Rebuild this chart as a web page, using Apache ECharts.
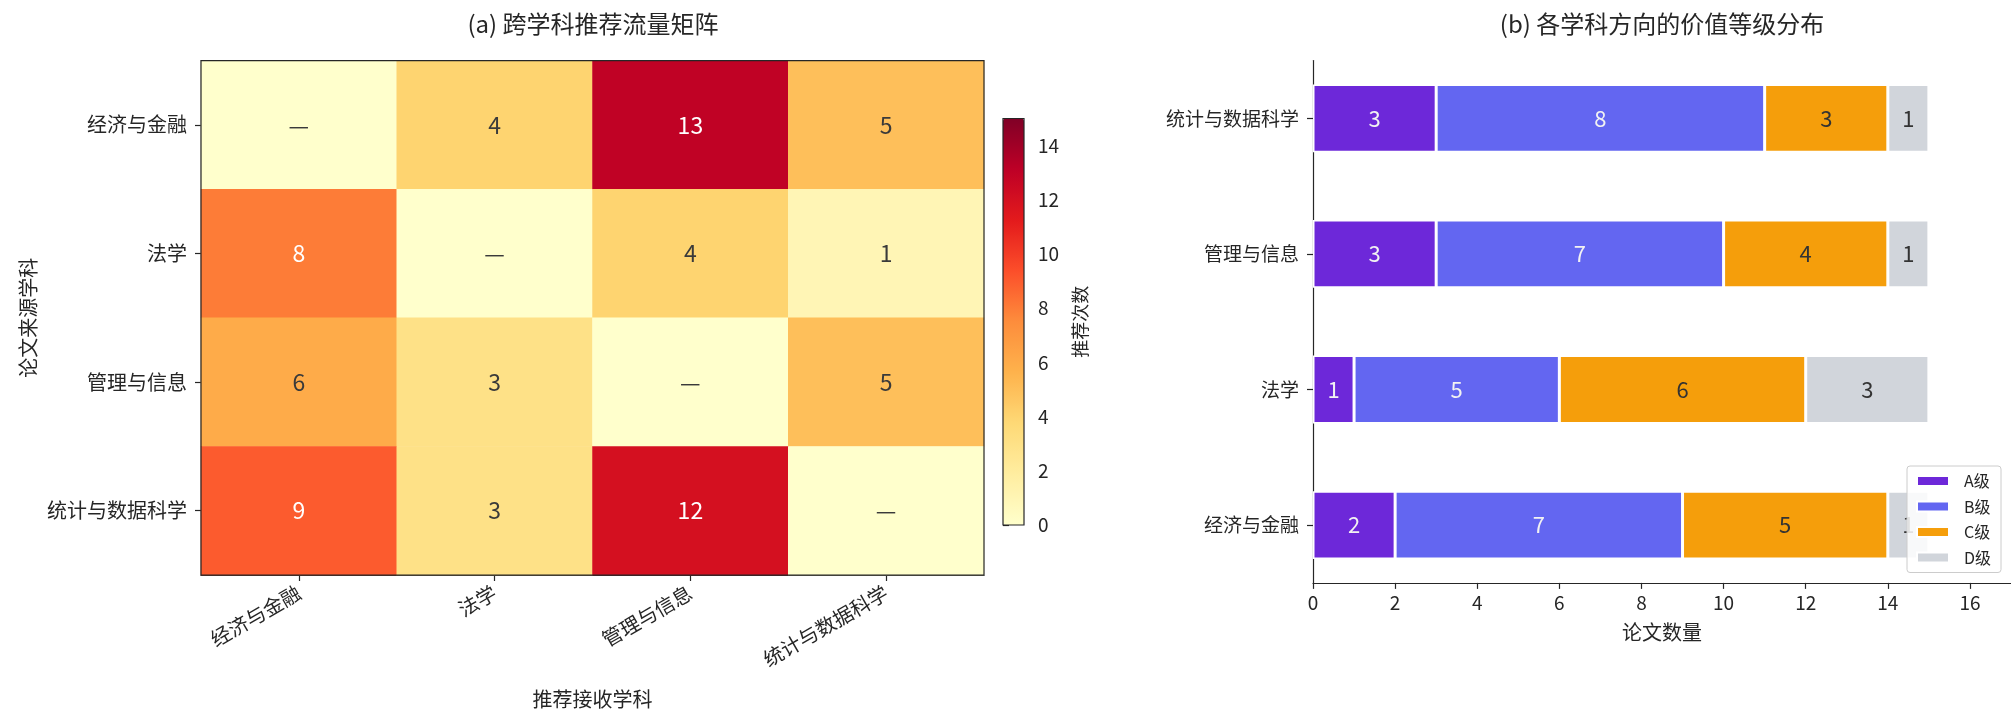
<!DOCTYPE html>
<html>
<head>
<meta charset="utf-8">
<script src="https://cdn.jsdelivr.net/npm/echarts@6/dist/echarts.min.js"></script>
<style>
  html, body { margin: 0; padding: 0; background: #ffffff; }
  #chart { width: 2011px; height: 714px; }
</style>
</head>
<body>
<div id="chart"></div>
<script>
// ---- data ----
const disciplines = ['经济与金融', '法学', '管理与信息', '统计与数据科学'];

// recommendation counts: rows = source discipline, columns = receiving discipline
// (diagonal is self-recommendation, shown as a dash)
const flowMatrix = [
  [0, 4, 13, 5],
  [8, 0, 4, 1],
  [6, 3, 0, 5],
  [9, 3, 12, 0]
];
const colorbarTicks = [0, 2, 4, 6, 8, 10, 12, 14];

// paper counts per value grade, in the order of `disciplines`
const gradeNames = ['A级', 'B级', 'C级', 'D级'];
const gradeA = [2, 1, 3, 3];
const gradeB = [7, 5, 7, 8];
const gradeC = [5, 6, 4, 3];
const gradeD = [1, 3, 1, 1];
const countTicks = [0, 2, 4, 6, 8, 10, 12, 14, 16];

// ---- styles ----
const FONT = '"Noto Sans CJK SC", "Noto Sans", sans-serif';
const INK = '#262626';
const YlOrRd = ['#ffffcc', '#ffeda0', '#fed976', '#feb24c', '#fd8d3c',
                '#fc4e2a', '#e31a1c', '#bd0026', '#800026'];
const gradeColors = ['#6d28d9', '#6366f1', '#f59e0b', '#d1d5db'];
const gradeLabelColors = ['#f2f2f2', '#f2f2f2', '#333333', '#333333'];

const heatData = [];
flowMatrix.forEach((row, i) => {
  row.forEach((v, j) => {
    heatData.push({
      value: [j, i, v],
      label: { color: (i !== j && v > 7) ? '#ffffff' : '#3a3a3a' }
    });
  });
});

const axisLineStyle = { color: INK, width: 1.2 };
const tickStyle = { color: INK, width: 1.2 };
const heatLabelStyle = { color: INK, fontFamily: FONT, fontSize: 20 };
const barLabelStyle = { color: INK, fontFamily: FONT, fontSize: 19 };

const chart = echarts.init(document.getElementById('chart'), null, { renderer: 'canvas' });

const gradeSeries = [gradeA, gradeB, gradeC, gradeD].map((vals, k) => ({
  name: gradeNames[k],
  type: 'bar',
  xAxisIndex: 2,
  yAxisIndex: 2,
  stack: 'grade',
  barWidth: '50%',
  data: vals,
  itemStyle: { color: gradeColors[k], borderColor: '#ffffff', borderWidth: 1.5 },
  label: {
    show: true,
    position: 'inside',
    formatter: '{c}',
    color: gradeLabelColors[k],
    fontFamily: FONT,
    fontSize: 22
  },
  emphasis: { disabled: true },
  z: 2
}));

chart.setOption({
  backgroundColor: '#ffffff',
  animation: false,
  textStyle: { fontFamily: FONT },
  title: [
    {
      text: '(a) 跨学科推荐流量矩阵',
      left: 593, top: 12, textAlign: 'center', padding: 0,
      textStyle: { fontFamily: FONT, fontSize: 24, fontWeight: 'normal', color: INK }
    },
    {
      text: '(b) 各学科方向的价值等级分布',
      left: 1662, top: 12, textAlign: 'center', padding: 0,
      textStyle: { fontFamily: FONT, fontSize: 24, fontWeight: 'normal', color: INK }
    }
  ],
  grid: [
    // heat matrix
    { left: 201, top: 60.6, width: 783, height: 522.3, show: true, z: 10,
      borderColor: INK, borderWidth: 1.2, backgroundColor: 'transparent', containLabel: false },
    // colour bar
    { left: 1003, top: 118.5, width: 21, height: 406.5, show: true, z: 10,
      borderColor: INK, borderWidth: 1.2, backgroundColor: 'transparent', containLabel: false },
    // stacked bars (category bands)
    { left: 1313, top: 50.5, width: 698, height: 542.4, containLabel: false },
    // bar panel frame (spines and value axis)
    { left: 1313, top: 60.6, width: 698, height: 522.3, containLabel: false }
  ],
  visualMap: {
    type: 'continuous',
    seriesIndex: 0,
    min: 0, max: 15,
    inRange: { color: YlOrRd },
    show: true,
    calculable: false,
    hoverLink: false,
    left: 1003, top: 118.5,
    itemWidth: 21, itemHeight: 406.5,
    padding: 0,
    borderWidth: 0
  },
  xAxis: [
    {
      gridIndex: 0, type: 'category', data: disciplines,
      axisLine: { show: true, lineStyle: axisLineStyle },
      axisTick: { show: true, alignWithLabel: true, length: 6, lineStyle: tickStyle },
      axisLabel: Object.assign({ rotate: 30, margin: 16, interval: 0 }, heatLabelStyle),
      splitLine: { show: false },
      name: '推荐接收学科', nameLocation: 'middle', nameGap: 114,
      nameTextStyle: { color: INK, fontFamily: FONT, fontSize: 20 }
    },
    { gridIndex: 1, type: 'value', show: false },
    { gridIndex: 2, type: 'value', min: 0, max: 17, show: false },
    {
      gridIndex: 3, type: 'value', min: 0, max: 17,
      axisLine: { show: true, lineStyle: axisLineStyle },
      axisTick: { show: true, length: 6, lineStyle: tickStyle, customValues: countTicks },
      axisLabel: Object.assign({ margin: 10, customValues: countTicks }, barLabelStyle),
      splitLine: { show: false },
      name: '论文数量', nameLocation: 'middle', nameGap: 40,
      nameTextStyle: { color: INK, fontFamily: FONT, fontSize: 20 }
    }
  ],
  yAxis: [
    {
      gridIndex: 0, type: 'category', data: disciplines, inverse: true,
      axisLine: { show: true, lineStyle: axisLineStyle },
      axisTick: { show: true, alignWithLabel: true, length: 6, lineStyle: tickStyle },
      axisLabel: Object.assign({ margin: 14, interval: 0 }, heatLabelStyle),
      splitLine: { show: false },
      name: '论文来源学科', nameLocation: 'middle', nameRotate: 90, nameGap: 163,
      nameTextStyle: { color: INK, fontFamily: FONT, fontSize: 20 }
    },
    {
      gridIndex: 1, type: 'value', position: 'right', min: 0, max: 15,
      axisLine: { show: false },
      axisTick: { show: true, length: 6, lineStyle: tickStyle, customValues: colorbarTicks },
      axisLabel: { margin: 14, color: INK, fontFamily: FONT, fontSize: 19, customValues: colorbarTicks },
      splitLine: { show: false },
      name: '推荐次数', nameLocation: 'middle', nameRotate: 90, nameGap: 47,
      nameTextStyle: { color: INK, fontFamily: FONT, fontSize: 18 }
    },
    {
      gridIndex: 2, type: 'category', data: disciplines,
      axisLine: { show: false },
      axisTick: { show: true, alignWithLabel: true, length: 6, lineStyle: tickStyle },
      axisLabel: Object.assign({ margin: 14, interval: 0 }, barLabelStyle),
      splitLine: { show: false }
    },
    {
      gridIndex: 3, type: 'value', min: 0, max: 1,
      axisLine: { show: true, lineStyle: axisLineStyle },
      axisTick: { show: false },
      axisLabel: { show: false },
      splitLine: { show: false }
    }
  ],
  legend: {
    data: gradeNames,
    orient: 'vertical',
    left: 1907, top: 466,
    icon: 'rect',
    itemWidth: 32, itemHeight: 10, itemGap: 7.5,
    padding: [6, 10, 6, 9],
    backgroundColor: 'rgba(255,255,255,0.85)',
    borderColor: '#cccccc', borderWidth: 1, borderRadius: 3,
    textStyle: { color: INK, fontFamily: FONT, fontSize: 16, lineHeight: 18, padding: [0, 0, 0, 10] },
    selectedMode: false
  },
  series: [
    {
      type: 'heatmap',
      xAxisIndex: 0, yAxisIndex: 0,
      data: heatData,
      label: {
        show: true,
        fontFamily: FONT,
        fontSize: 23,
        formatter: p => (p.value[0] === p.value[1] ? '—' : String(p.value[2]))
      },
      emphasis: { disabled: true },
      progressive: 0
    }
  ].concat(gradeSeries)
});
</script>
</body>
</html>
